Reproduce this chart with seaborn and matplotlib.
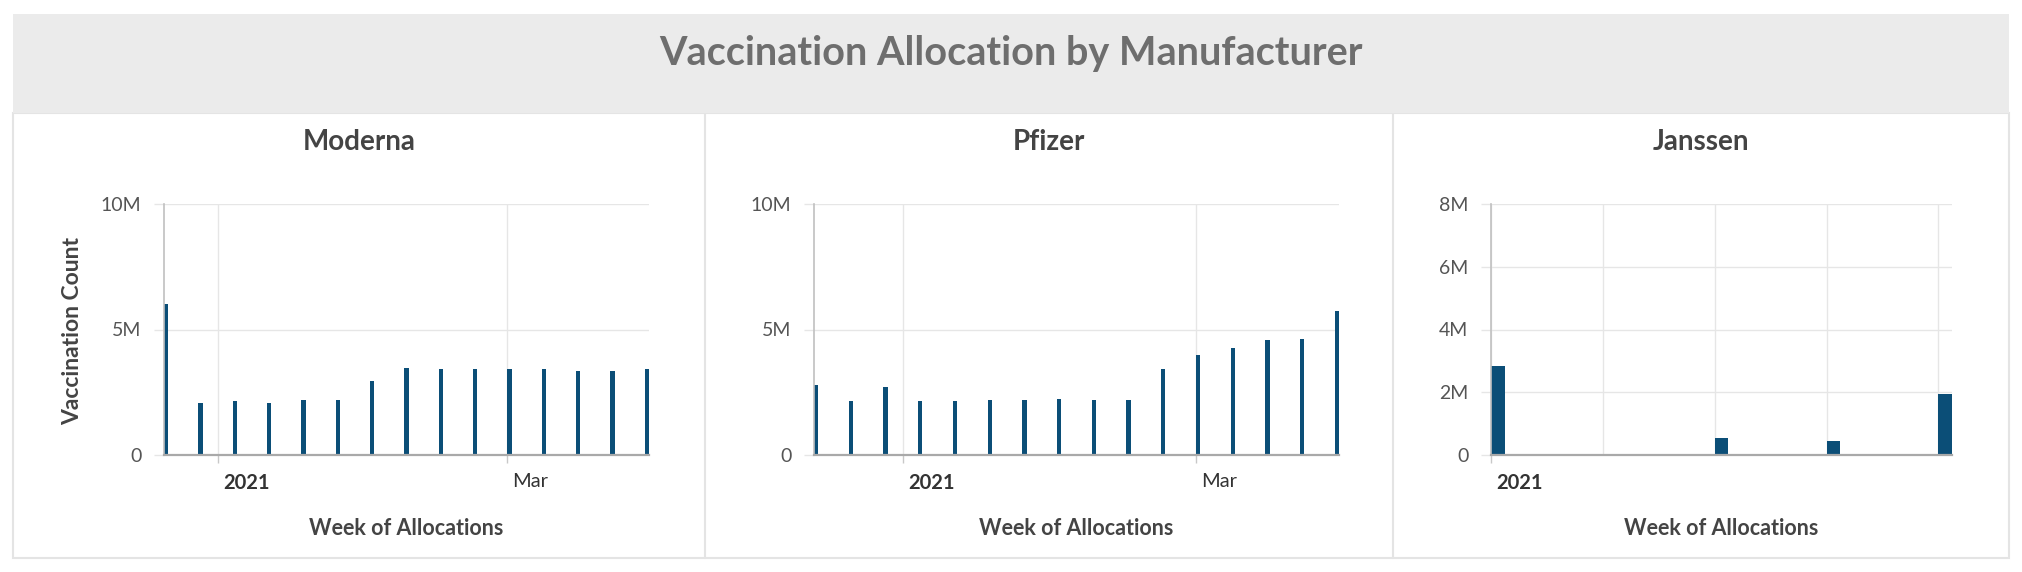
import matplotlib
matplotlib.use('Agg')
import matplotlib.pyplot as plt
import matplotlib.dates as mdates
from matplotlib.patches import Rectangle
from matplotlib.lines import Line2D
from matplotlib.ticker import FuncFormatter
from matplotlib.transforms import ScaledTranslation
import numpy as np
import pandas as pd
import seaborn as sns

# ---- data ----
MODERNA_WEEKS = ['2020-12-21', '2020-12-28', '2021-01-04', '2021-01-11', '2021-01-18',
                 '2021-01-25', '2021-02-01', '2021-02-08', '2021-02-15', '2021-02-22',
                 '2021-03-01', '2021-03-08', '2021-03-15', '2021-03-22', '2021-03-29']
MODERNA_DOSES = [6.01e6, 2.06e6, 2.14e6, 2.06e6, 2.19e6, 2.19e6, 2.93e6, 3.48e6,
                 3.42e6, 3.42e6, 3.43e6, 3.42e6, 3.34e6, 3.34e6, 3.43e6]

PFIZER_WEEKS = ['2020-12-14', '2020-12-21', '2020-12-28', '2021-01-04', '2021-01-11',
                '2021-01-18', '2021-01-25', '2021-02-01', '2021-02-08', '2021-02-15',
                '2021-02-22', '2021-03-01', '2021-03-08', '2021-03-15', '2021-03-22',
                '2021-03-29']
PFIZER_DOSES = [2.77e6, 2.14e6, 2.70e6, 2.15e6, 2.14e6, 2.21e6, 2.21e6, 2.22e6,
                2.21e6, 2.21e6, 3.42e6, 4.00e6, 4.28e6, 4.57e6, 4.63e6, 5.72e6]

JANSSEN_WEEKS = ['2021-03-01', '2021-03-15', '2021-03-22', '2021-03-29']
JANSSEN_DOSES = [2.85e6, 0.55e6, 0.44e6, 1.93e6]

PANEL_NAMES = ['Moderna', 'Pfizer', 'Janssen']
Y_TICKS = [[0, 5e6, 10e6], [0, 5e6, 10e6], [0, 2e6, 4e6, 6e6, 8e6]]
X_TICKS = [['2021-01-01', '2021-03-01'], ['2021-01-01', '2021-03-01'], ['2021-03-01']]
X_TICK_LABELS = [['2021', 'Mar'], ['2021', 'Mar'], ['2021']]

TITLE = 'Vaccination Allocation by Manufacturer'
X_LABEL = 'Week of Allocations'
Y_LABEL = 'Vaccination Count'

# ---- style ----
BAR_COLOR = '#0b4e77'
GRID_COLOR = '#e6e6e6'
BORDER_COLOR = '#e4e4e4'
HEADER_COLOR = '#ebebeb'
TEXT_DARK = '#444444'
BAR_DAYS = 0.85  # bar width in days

W, H, DPI = 2022, 572, 100

sns.set_style('white')
plt.rcParams['font.family'] = ['Lato', 'DejaVu Sans']


def frac(left, right, top, bottom):
    return [left / W, 1 - bottom / H, (right - left) / W, (bottom - top) / H]


def millions(v, _):
    return '0' if v == 0 else '{:g}M'.format(v / 1e6)


fig = plt.figure(figsize=(W / DPI, H / DPI), dpi=DPI)

# dashboard frame (drawn beneath the axes)
fig.patches.append(Rectangle((13 / W, 1 - 558 / H), 1996 / W, 445 / H, transform=fig.transFigure,
                             facecolor='white', edgecolor=BORDER_COLOR, linewidth=1.5, zorder=-2))
fig.patches.append(Rectangle((13 / W, 1 - 113 / H), 1996 / W, 99 / H, transform=fig.transFigure,
                             facecolor=HEADER_COLOR, edgecolor='none', zorder=-1))
for xd in [705, 1393]:
    fig.lines.append(Line2D([xd / W, xd / W], [1 - 558 / H, 1 - 113 / H], transform=fig.transFigure,
                            color=BORDER_COLOR, linewidth=1.5, zorder=-1))

fig.text(0.5, 1 - 65 / H, TITLE, ha='center', va='baseline', fontsize=28.5,
         fontweight='bold', color='#6e6e6e')

panel_boxes = [(164, 649), (814, 1339), (1491, 1952)]
panel_centers = [359, 1049, 1701]
datasets = [(MODERNA_WEEKS, MODERNA_DOSES), (PFIZER_WEEKS, PFIZER_DOSES),
            (JANSSEN_WEEKS, JANSSEN_DOSES)]

for i, (weeks, doses) in enumerate(datasets):
    left, right = panel_boxes[i]
    ax = fig.add_axes(frac(left, right, 204, 455))
    ax.set_facecolor('none')

    dates = mdates.date2num(pd.to_datetime(weeks))
    # bars start at the week date (edge aligned)
    df = pd.DataFrame({'x': dates + BAR_DAYS / 2, 'count': doses})
    sns.barplot(data=df, x='x', y='count', native_scale=True, color=BAR_COLOR,
                saturation=1, width=BAR_DAYS / 7, errorbar=None, linewidth=0, ax=ax)

    ax.set_xlim(dates[0], dates[-1] + BAR_DAYS)
    ax.set_ylim(0, Y_TICKS[i][-1])
    ax.set_yticks(Y_TICKS[i])
    ax.yaxis.set_major_formatter(FuncFormatter(millions))

    ticks = mdates.date2num(pd.to_datetime(X_TICKS[i]))
    ax.set_xticks(ticks)
    ax.set_xticklabels(X_TICK_LABELS[i])
    if i == 2:
        ax.xaxis.set_minor_locator(mdates.WeekdayLocator(byweekday=mdates.MO))
        ax.tick_params(axis='x', which='minor', length=0)

    ax.grid(True, which='both', color=GRID_COLOR, linewidth=1)
    ax.set_axisbelow(True)
    sns.despine(ax=ax)
    ax.spines['left'].set_color('#c0c0c0')
    ax.spines['left'].set_linewidth(1.2)
    ax.spines['bottom'].set_color('#a9a9a9')
    ax.spines['bottom'].set_linewidth(1.6)

    ax.tick_params(axis='y', which='major', left=True, length=7.2, width=1, color=GRID_COLOR,
                   pad=9, labelsize=14, labelcolor='#555555')
    ax.tick_params(axis='x', which='major', bottom=True, length=5.8, width=1, color='#c8c8c8',
                   pad=7, labelsize=14.5, labelcolor='#333333')
    offset = ScaledTranslation(5 / DPI, 0, fig.dpi_scale_trans)
    for lab in ax.get_xticklabels():
        lab.set_ha('left')
        lab.set_transform(lab.get_transform() + offset)
        if lab.get_text().isdigit():
            lab.set_fontweight('bold')

    ax.set_xlabel(X_LABEL, fontsize=15.5, fontweight='bold', color=TEXT_DARK)
    ax.xaxis.set_label_coords(0.5, (455 - 535) / 251)
    ax.xaxis.label.set_va('baseline')
    if i == 0:
        ax.set_ylabel(Y_LABEL, fontsize=16.5, fontweight='bold', color=TEXT_DARK)
        ax.yaxis.set_label_coords((73 - left) / (right - left), (455 - 331) / 251)
        ax.yaxis.label.set_va('center')
    else:
        ax.set_ylabel('')

    fig.text(panel_centers[i] / W, 1 - 150 / H, PANEL_NAMES[i], ha='center', va='baseline',
             fontsize=20, fontweight='bold', color=TEXT_DARK)

fig.savefig('out.png', dpi=DPI, facecolor='white')
